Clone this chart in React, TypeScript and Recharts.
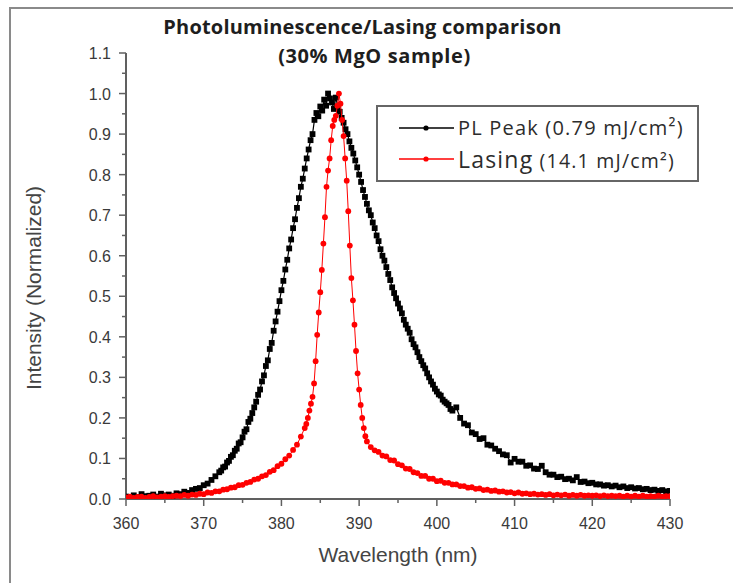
import { Legend, Scatter, ScatterChart, XAxis, YAxis } from "recharts";

// PL spectrum, 0.79 mJ/cm2 (finer steps over the body)
const plWavelength = [
  360, 360.5, 361, 361.5, 362, 362.5, 363, 363.5, 364, 364.5,
  365, 365.5, 366, 366.5, 367, 367.5, 368, 368.5, 369, 369.5,
  370, 370.5, 371, 371.5,
  372, 372.25, 372.5, 372.75, 373, 373.25, 373.5, 373.75,
  374, 374.25, 374.5, 374.75, 375, 375.25, 375.5, 375.75,
  376, 376.25, 376.5, 376.75, 377, 377.25, 377.5, 377.75,
  378, 378.25, 378.5, 378.75, 379, 379.25, 379.5, 379.75,
  380, 380.25, 380.5, 380.75, 381, 381.25, 381.5, 381.75,
  382, 382.25, 382.5, 382.75, 383, 383.25, 383.5, 383.75,
  384, 384.25, 384.5, 384.75, 385, 385.25, 385.5, 385.75,
  386, 386.25, 386.5, 386.75, 387, 387.25, 387.5, 387.75,
  388, 388.25, 388.5, 388.75, 389, 389.25, 389.5, 389.75,
  390, 390.25, 390.5, 390.75, 391, 391.25, 391.5, 391.75,
  392, 392.25, 392.5, 392.75, 393, 393.25, 393.5, 393.75,
  394, 394.25, 394.5, 394.75, 395, 395.25, 395.5, 395.75,
  396, 396.25, 396.5, 396.75, 397, 397.25, 397.5, 397.75,
  398, 398.25, 398.5, 398.75, 399, 399.25, 399.5, 399.75,
  400, 400.25, 400.5, 400.75, 401, 401.25, 401.5, 401.75,
  402,
  402.5, 403, 403.5, 404, 404.5, 405, 405.5, 406, 406.5, 407,
  407.5, 408, 408.5, 409, 409.5, 410, 410.5, 411, 411.5, 412,
  412.5, 413, 413.5, 414, 414.5, 415, 415.5, 416, 416.5, 417,
  417.5, 418, 418.5, 419, 419.5, 420, 420.5, 421, 421.5, 422,
  422.5, 423, 423.5, 424, 424.5, 425, 425.5, 426, 426.5, 427,
  427.5, 428, 428.5, 429, 429.5, 430,
];
const plIntensity = [
  0.006, 0.004, 0.009, 0.005, 0.012, 0.007, 0.008, 0.011, 0.006, 0.013,
  0.009, 0.011, 0.008, 0.014, 0.012, 0.018, 0.015, 0.022, 0.025, 0.027,
  0.034, 0.038, 0.047, 0.056,
  0.066, 0.07, 0.078, 0.08, 0.09, 0.094, 0.104, 0.108,
  0.119, 0.124, 0.137, 0.14, 0.152, 0.166, 0.172, 0.19,
  0.198, 0.212, 0.226, 0.24, 0.257, 0.27, 0.29, 0.305,
  0.328, 0.342, 0.37, 0.385, 0.415, 0.438, 0.462, 0.488,
  0.515, 0.538, 0.566, 0.59, 0.618, 0.64, 0.668, 0.69,
  0.718, 0.742, 0.77, 0.79, 0.815, 0.84, 0.862, 0.885,
  0.9, 0.935, 0.952, 0.944, 0.968, 0.958, 0.985, 0.97,
  1.0, 0.988, 0.978, 0.962, 0.99, 0.968, 0.955, 0.94,
  0.928, 0.912, 0.9, 0.882, 0.866, 0.852, 0.835, 0.818,
  0.8, 0.782, 0.762, 0.745, 0.728, 0.712, 0.7, 0.682,
  0.668, 0.65, 0.636, 0.616, 0.6, 0.588, 0.572, 0.555,
  0.54, 0.522, 0.508, 0.495, 0.482, 0.47, 0.458, 0.442,
  0.43, 0.42, 0.41, 0.394, 0.382, 0.374, 0.362, 0.35,
  0.34, 0.33, 0.322, 0.31, 0.3, 0.29, 0.282, 0.272,
  0.265, 0.258, 0.255, 0.245, 0.24, 0.236, 0.232, 0.222,
  0.218,
  0.226, 0.2, 0.186, 0.182, 0.164, 0.16, 0.148, 0.15, 0.134, 0.132,
  0.124, 0.118, 0.11, 0.108, 0.09, 0.099, 0.092, 0.092, 0.082, 0.083,
  0.075, 0.074, 0.082, 0.066, 0.06, 0.06, 0.054, 0.055, 0.049, 0.05,
  0.046, 0.054, 0.042, 0.043, 0.039, 0.04, 0.036, 0.036, 0.033, 0.034,
  0.031, 0.033, 0.029, 0.031, 0.027, 0.029, 0.026, 0.027, 0.024, 0.025,
  0.022, 0.023, 0.02, 0.022, 0.019, 0.02,
];

// lasing spectrum, 14.1 mJ/cm2 (finer steps across the narrow peak)
const lasingWavelength = [
  360, 360.5, 361, 361.5, 362, 362.5, 363, 363.5, 364, 364.5,
  365, 365.5, 366, 366.5, 367, 367.5, 368, 368.5, 369, 369.5,
  370, 370.5, 371, 371.5, 372, 372.5, 373, 373.5, 374, 374.5,
  375, 375.5, 376, 376.5, 377, 377.5, 378, 378.5, 379, 379.5,
  380, 380.5, 381, 381.5, 382, 382.5, 383,
  383.2, 383.4, 383.6, 383.8, 384, 384.2, 384.4, 384.6, 384.8, 385,
  385.2, 385.4, 385.6, 385.8, 386, 386.2, 386.4, 386.6, 386.8, 387,
  387.2, 387.4, 387.6, 387.8, 388, 388.2, 388.4, 388.6, 388.8, 389,
  389.2, 389.4, 389.6, 389.8, 390, 390.2, 390.4, 390.6, 390.8, 391,
  391.5, 392, 392.5, 393, 393.5, 394, 394.5, 395, 395.5, 396,
  396.5, 397, 397.5, 398, 398.5, 399, 399.5, 400, 400.5, 401,
  401.5, 402, 402.5, 403, 403.5, 404, 404.5, 405, 405.5, 406,
  406.5, 407, 407.5, 408, 408.5, 409, 409.5, 410, 410.5, 411,
  411.5, 412, 412.5, 413, 413.5, 414, 414.5, 415, 415.5, 416,
  416.5, 417, 417.5, 418, 418.5, 419, 419.5, 420, 420.5, 421,
  421.5, 422, 422.5, 423, 423.5, 424, 424.5, 425, 425.5, 426,
  426.5, 427, 427.5, 428, 428.5, 429, 429.5, 430,
];
const lasingIntensity = [
  0.004, 0.006, 0.003, 0.005, 0.006, 0.003, 0.005, 0.007, 0.004, 0.006,
  0.007, 0.005, 0.007, 0.008, 0.007, 0.01, 0.008, 0.011, 0.01, 0.013,
  0.012, 0.016, 0.015, 0.019, 0.019, 0.023, 0.024, 0.028, 0.029, 0.034,
  0.035, 0.04, 0.042, 0.048, 0.05, 0.056, 0.059, 0.067, 0.071, 0.081,
  0.087, 0.098, 0.107, 0.121, 0.134, 0.154, 0.175,
  0.185, 0.2, 0.218, 0.235, 0.252, 0.285, 0.34, 0.405, 0.46, 0.51,
  0.565, 0.63, 0.695, 0.77, 0.81, 0.84, 0.885, 0.92, 0.935, 0.945,
  0.97, 1.0, 0.975, 0.935, 0.895, 0.84, 0.785, 0.71, 0.625, 0.545,
  0.49, 0.43, 0.365, 0.31, 0.27, 0.232, 0.2, 0.175, 0.155, 0.142,
  0.128, 0.12, 0.116, 0.107, 0.105, 0.096, 0.095, 0.086, 0.083, 0.075,
  0.074, 0.066, 0.064, 0.057, 0.057, 0.05, 0.05, 0.044, 0.045, 0.04,
  0.04, 0.036, 0.036, 0.032, 0.032, 0.028, 0.029, 0.025, 0.026, 0.022,
  0.023, 0.02, 0.021, 0.018, 0.019, 0.016, 0.017, 0.014, 0.016, 0.013,
  0.014, 0.012, 0.013, 0.011, 0.012, 0.01, 0.012, 0.009, 0.011, 0.009,
  0.011, 0.008, 0.01, 0.008, 0.01, 0.008, 0.009, 0.008, 0.009, 0.007,
  0.009, 0.007, 0.008, 0.007, 0.008, 0.006, 0.008, 0.006, 0.008, 0.006,
  0.008, 0.006, 0.007, 0.006, 0.008, 0.006, 0.007, 0.007,
];

const xMajorTicks = [360, 370, 380, 390, 400, 410, 420, 430];
const xMinorTicks = [365, 375, 385, 395, 405, 415, 425];
const yMajorTicks = [0, 0.1, 0.2, 0.3, 0.4, 0.5, 0.6, 0.7, 0.8, 0.9, 1.0, 1.1];
const yMinorTicks = [0.05, 0.15, 0.25, 0.35, 0.45, 0.55, 0.65, 0.75, 0.85, 0.95, 1.05];

const seriesNames = ["PL Peak (0.79 mJ/cm²)", "Lasing (14.1 mJ/cm²)"];

const plData = plWavelength.map((x, i) => ({ x, y: plIntensity[i] }));
const lasingData = lasingWavelength.map((x, i) => ({ x, y: lasingIntensity[i] }));

const axisColor = "#606060";
const textColor = "#3a3a3a";
const sansFont = "'Liberation Sans', Arial, sans-serif";
const legendFont = "'Open Sans', 'Noto Sans', sans-serif";

const SquareDot = (props: any) => (
  <rect x={props.cx - 2.9} y={props.cy - 2.9} width={5.8} height={5.8} fill="#000000" />
);

const RoundDot = (props: any) => <circle cx={props.cx} cy={props.cy} r={2.9} fill="#ff0000" />;

const XTick = ({ x, y, payload }: any) => {
  const major = xMajorTicks.includes(payload.value);
  return (
    <g>
      <line x1={x} x2={x} y1={y} y2={y + (major ? 7 : 4)} stroke={axisColor} strokeWidth={1.5} />
      {major && (
        <text x={x} y={y + 30} textAnchor="middle" fontSize={16} fontFamily={sansFont} fill={textColor}>
          {payload.value}
        </text>
      )}
    </g>
  );
};

const YTick = ({ x, y, payload }: any) => {
  const major = yMajorTicks.includes(payload.value);
  return (
    <g>
      <line x1={x} x2={x - (major ? 7 : 4)} y1={y} y2={y} stroke={axisColor} strokeWidth={1.5} />
      {major && (
        <text x={x - 15} y={y + 6} textAnchor="end" fontSize={16} fontFamily={sansFont} fill={textColor}>
          {payload.value.toFixed(1)}
        </text>
      )}
    </g>
  );
};

const YLabel = ({ viewBox }: any) => {
  const cx = viewBox.x - 25;
  const cy = viewBox.y + viewBox.height / 2 + 12;
  return (
    <text
      x={cx}
      y={cy}
      transform={`rotate(-90 ${cx} ${cy})`}
      textAnchor="middle"
      fontSize={21}
      fontFamily={sansFont}
      fill="#444"
    >
      Intensity (Normalized)
    </text>
  );
};

const XLabel = ({ viewBox }: any) => (
  <text
    x={viewBox.x + viewBox.width / 2}
    y={viewBox.y + 63}
    textAnchor="middle"
    fontSize={21}
    fontFamily={sansFont}
    fill="#444"
  >
    Wavelength (nm)
  </text>
);

const LegendBox = ({ payload }: any) => {
  const items = [...(payload || [])].sort(
    (a: any, b: any) => seriesNames.indexOf(a.value) - seriesNames.indexOf(b.value),
  );
  return (
    <div
      style={{
        width: 323,
        height: 77,
        boxSizing: "border-box",
        border: "2px solid #666",
        background: "#fff",
        paddingTop: 5,
      }}
    >
      {items.map((item: any, i: number) => {
        const name: string = item.value;
        const cut = name.indexOf(" (");
        const color = item.payload?.fill ?? item.color;
        return (
          <div key={name} style={{ display: "flex", alignItems: "center", height: 31 }}>
            <svg width={80} height={20} style={{ flex: "none" }}>
              <line x1={21} x2={76} y1={10} y2={10} stroke={color} strokeWidth={1.3} />
              <circle cx={48} cy={10} r={2.6} fill={color} />
            </svg>
            <span style={{ fontFamily: legendFont, color: "#2c2c2c", whiteSpace: "nowrap", letterSpacing: 1.2 }}>
              <span style={{ fontSize: i === 1 ? 23 : 20 }}>{name.slice(0, cut)}</span>
              <span style={{ fontSize: i === 1 ? 19.5 : 20 }}>{name.slice(cut)}</span>
            </span>
          </div>
        );
      })}
    </div>
  );
};

export default function App() {
  return (
    <div
      style={{
        position: "absolute",
        left: 0,
        top: 0,
        width: 733,
        height: 583,
        background: "#fff",
        overflow: "hidden",
      }}
    >
      <div
        style={{
          position: "absolute",
          left: 9,
          top: 7,
          right: 0,
          bottom: 0,
          borderTop: "2px solid #8a8a8a",
          borderLeft: "2px solid #8a8a8a",
        }}
      />
      <div
        style={{
          position: "absolute",
          left: 0,
          width: 733,
          top: 12,
          textAlign: "center",
          fontFamily: legendFont,
          fontWeight: 700,
          color: "#1e1e1e",
          lineHeight: "29px",
        }}
      >
        <div style={{ fontSize: 20, letterSpacing: 0.2, marginLeft: -8 }}>Photoluminescence/Lasing comparison</div>
        <div style={{ fontSize: 20, letterSpacing: 0.6, marginLeft: 16 }}>(30% MgO sample)</div>
      </div>
      <div style={{ position: "absolute", left: 0, top: 0 }}>
        <ScatterChart width={733} height={583} margin={{ top: 53, right: 63, bottom: 54, left: 66 }}>
          <XAxis
            type="number"
            dataKey="x"
            domain={[360, 430]}
            ticks={[...xMajorTicks, ...xMinorTicks]}
            interval={0}
            allowDataOverflow
            height={30}
            tickSize={0}
            tickMargin={0}
            tickLine={false}
            tick={<XTick />}
            axisLine={{ stroke: axisColor, strokeWidth: 2 }}
            label={<XLabel />}
          />
          <YAxis
            type="number"
            dataKey="y"
            domain={[0, 1.1]}
            ticks={[...yMajorTicks, ...yMinorTicks]}
            interval={0}
            allowDataOverflow
            width={60}
            tickSize={0}
            tickMargin={0}
            tickLine={false}
            tick={<YTick />}
            axisLine={{ stroke: axisColor, strokeWidth: 2 }}
            label={<YLabel />}
          />
          <Legend
            layout="vertical"
            align="center"
            verticalAlign="middle"
            content={<LegendBox />}
            wrapperStyle={{ left: 376, top: 105, width: 323, height: 77 }}
          />
          <Scatter
            name={seriesNames[0]}
            data={plData}
            fill="#000000"
            line={{ stroke: "#000000", strokeWidth: 1.2 }}
            lineType="joint"
            shape={SquareDot}
            isAnimationActive={false}
          />
          <Scatter
            name={seriesNames[1]}
            data={lasingData}
            fill="#ff0000"
            line={{ stroke: "#ff0000", strokeWidth: 1 }}
            lineType="joint"
            shape={RoundDot}
            isAnimationActive={false}
          />
        </ScatterChart>
      </div>
    </div>
  );
}
